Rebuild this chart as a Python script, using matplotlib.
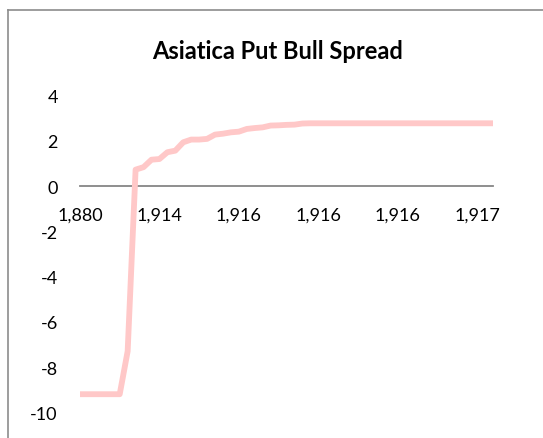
import matplotlib

matplotlib.use("Agg")

import matplotlib.pyplot as plt
from matplotlib.lines import Line2D

TITLE = "Asiatica Put Bull Spread"

# categories shown on the x axis (every 10th point is labelled)
tick_labels = ["1,880", "1,914", "1,916", "1,916", "1,916", "1,917"]
tick_every = 10

# payoff values, one per category (53 points)
payoff = [
    -9.2, -9.2, -9.2, -9.2, -9.2, -9.2, -7.3, 0.73, 0.84, 1.17,
    1.2, 1.5, 1.57, 1.94, 2.06, 2.06, 2.09, 2.28, 2.32, 2.38,
    2.41, 2.53, 2.57, 2.6, 2.68, 2.69, 2.71, 2.72, 2.77, 2.78,
    2.78, 2.78, 2.78, 2.78, 2.78, 2.78, 2.78, 2.78, 2.78, 2.78,
    2.78, 2.78, 2.78, 2.78, 2.78, 2.78, 2.78, 2.78, 2.78, 2.78,
    2.78, 2.78, 2.78,
]
y_ticks = [4, 2, 0, -2, -4, -6, -8, -10]

plt.rcParams["font.family"] = ["Lato", "DejaVu Sans"]
W, H = 543, 439

fig = plt.figure(figsize=(W / 100, H / 100), dpi=100, facecolor="white")
ax = fig.add_axes([80 / W, 1 - 413.3 / H, (493 - 80) / W, (413.3 - 96.7) / H])

# spine has to be moved before the tick labels are styled (it resets the ticks)
for side in ["top", "right", "left"]:
    ax.spines[side].set_visible(False)
ax.spines["bottom"].set_position(("data", 0))
ax.spines["bottom"].set_color("#868686")
ax.spines["bottom"].set_linewidth(1.3)

x = list(range(len(payoff)))
ax.plot(x, payoff, color="#ffc8c8", linewidth=4.2, solid_capstyle="round",
        solid_joinstyle="round", zorder=3)

ax.set_xlim(0, len(payoff) - 1)
ax.set_ylim(-10, 4)
ax.set_yticks(y_ticks)
ax.set_yticklabels([str(v) for v in y_ticks])
ax.set_xticks(x[::tick_every])
ax.set_xticklabels(tick_labels)
ax.tick_params(axis="x", length=0, pad=15, labelsize=13)
ax.tick_params(axis="y", length=0, pad=16, labelsize=13)

fig.text(278 / W, 1 - 59 / H, TITLE, ha="center", va="baseline",
         fontsize=17, fontweight="bold")

# chart frame (only top and left edges are inside the crop)
fig.add_artist(Line2D([8 / W, 8 / W], [0, 1 - 11 / H], color="#8c8c8c", linewidth=1.2))
fig.add_artist(Line2D([8 / W, 1], [1 - 11 / H, 1 - 11 / H], color="#8c8c8c", linewidth=1.2))

fig.savefig("out.png", dpi=100, facecolor="white")
plt.close(fig)
